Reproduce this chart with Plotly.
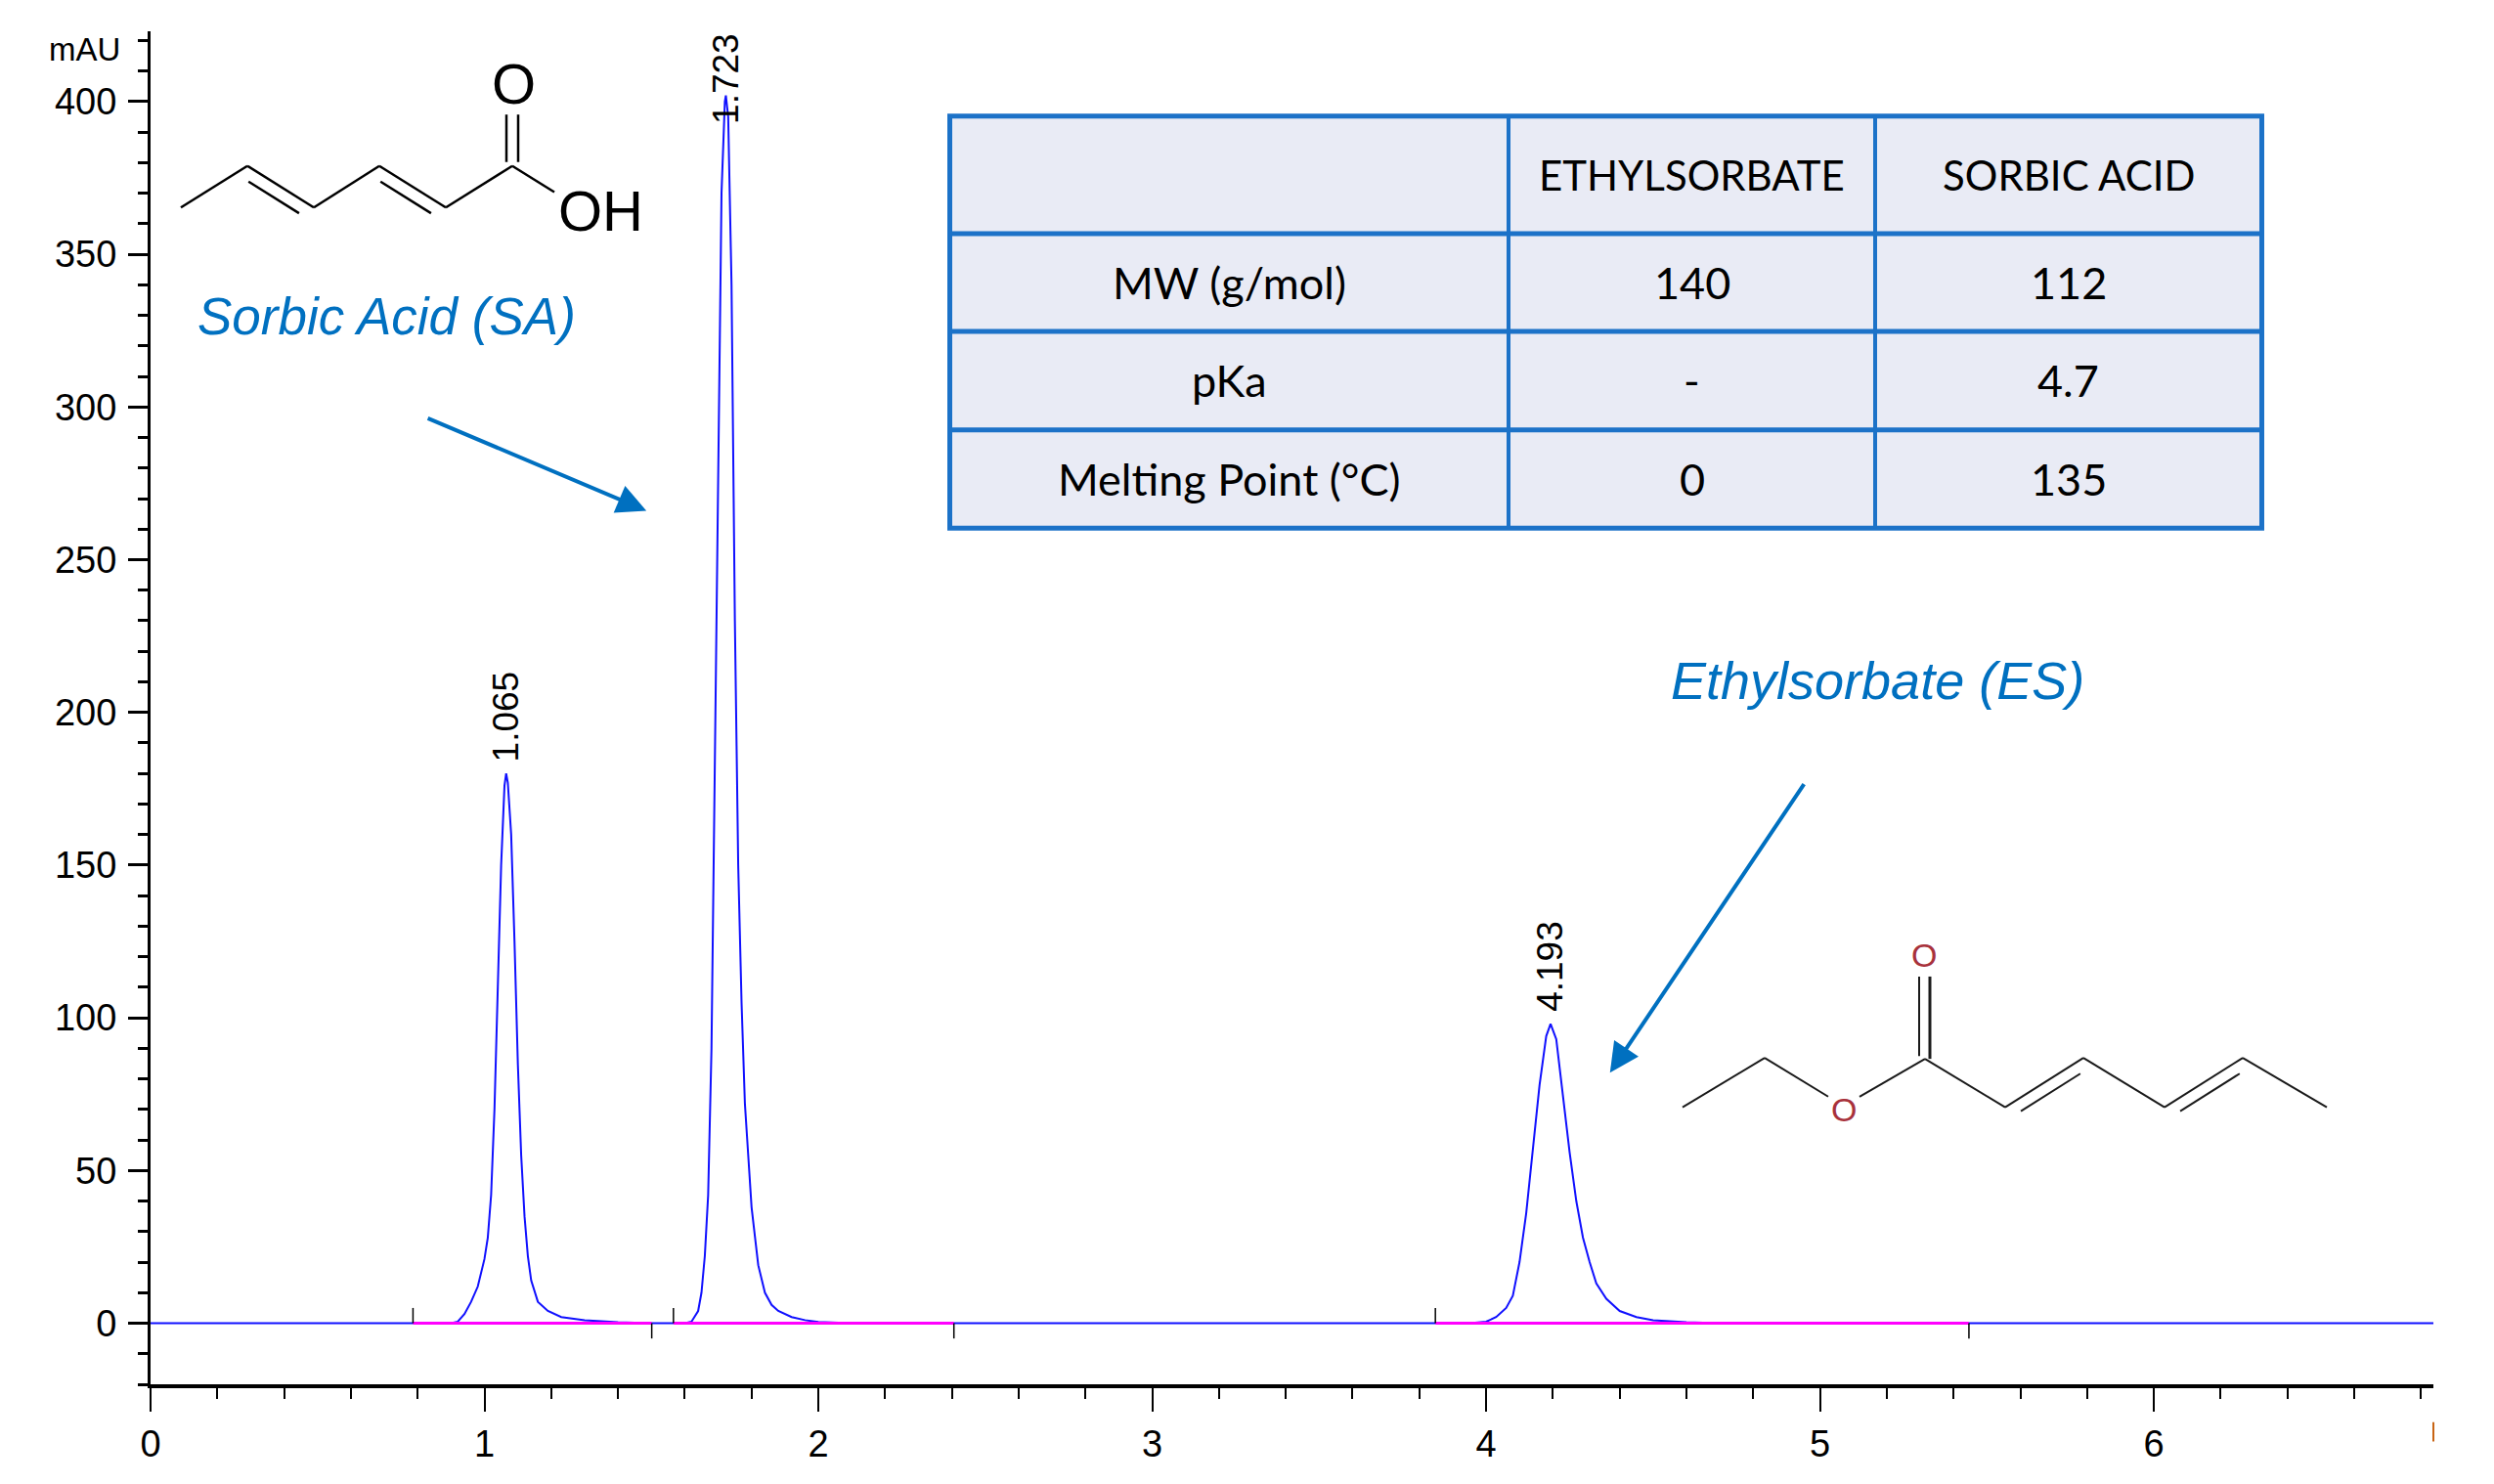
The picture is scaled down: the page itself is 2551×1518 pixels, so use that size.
import plotly.graph_objects as go

# chromatogram (min, mAU)
rt_p1 = [0.90, 0.92, 0.94, 0.96, 0.98, 1.00, 1.01, 1.02, 1.03, 1.04, 1.05, 1.06, 1.065,
         1.07, 1.08, 1.09, 1.10, 1.11, 1.12, 1.13, 1.14, 1.16, 1.19, 1.23, 1.30, 1.40, 1.50]
mau_p1 = [0, 0.5, 3, 7, 12, 21, 28, 42, 70, 110, 150, 176, 180,
          177, 160, 125, 85, 55, 35, 22, 14, 7, 4, 2, 1, 0.3, 0]
rt_p2 = [1.60, 1.62, 1.64, 1.65, 1.66, 1.67, 1.68, 1.69, 1.70, 1.71, 1.72, 1.723, 1.73,
         1.74, 1.75, 1.76, 1.77, 1.78, 1.79, 1.80, 1.82, 1.84, 1.86, 1.88, 1.92, 1.96, 2.00, 2.10]
mau_p2 = [0, 0.5, 4, 10, 22, 42, 90, 190, 290, 370, 400, 402, 395,
          340, 230, 150, 105, 72, 55, 38, 19, 10, 6, 4, 2, 1, 0.4, 0]
rt_p3 = [3.95, 4.00, 4.03, 4.06, 4.08, 4.10, 4.12, 4.14, 4.16, 4.18, 4.193, 4.21, 4.23,
         4.25, 4.27, 4.29, 4.31, 4.33, 4.36, 4.40, 4.45, 4.50, 4.60, 4.70]
mau_p3 = [0, 0.5, 2, 5, 9, 20, 36, 56, 78, 94, 98, 93, 75,
          56, 40, 28, 20, 13, 8, 4, 2, 1, 0.3, 0]
run_end = 6.837

peak_rt = [1.065, 1.723, 4.193]
peak_mau = [180, 402, 98]
peak_labels = ["1.065", "1.723", "4.193"]

# integration baselines (start / end of each peak)
bl_start = [0.786, 1.566, 3.848]
bl_end = [1.501, 2.406, 5.446]

# property table
table_header = ["", "ETHYLSORBATE", "SORBIC ACID"]
table_props = ["MW (g/mol)", "pKa", "Melting Point (°C)"]
es_vals = ["140", "-", "0"]
sa_vals = ["112", "4.7", "135"]

# page geometry of the reference (pixels) - plot area edges
W, H = 2551, 1518
L, R, T, B = 154, 62, 32, 89
PAGE = 8  # default body margin of the html page
Y_TOP = 423.0


def px(x):
    return (x - L) / (W - L - R)


def py(y):
    return (H - B - y) / (H - T - B)


fig = go.Figure()

chrom_t = [0.0] + rt_p1 + rt_p2 + rt_p3 + [run_end]
chrom_y = [0] + mau_p1 + mau_p2 + mau_p3 + [0]
fig.add_trace(go.Scatter(x=chrom_t, y=chrom_y, mode="lines",
                         line=dict(color="#1010ff", width=2), hoverinfo="skip"))

bx, by = [], []
for s, e in zip(bl_start, bl_end):
    bx += [s, e, None]
    by += [0, 0, None]
fig.add_trace(go.Scatter(x=bx, y=by, mode="lines",
                         line=dict(color="#ff00ff", width=3), hoverinfo="skip"))

ex, ey = [], []
for s, e in zip(bl_start, bl_end):
    ex += [s, s, None, e, e, None]
    ey += [0, 5, None, 0, -5, None]
fig.add_trace(go.Scatter(x=ex, y=ey, mode="lines",
                         line=dict(color="black", width=1.5), hoverinfo="skip"))

annotations = []
lab_font = dict(family="Liberation Sans, Arial", size=37, color="black")
for t, h, lab in zip(peak_rt, peak_mau, peak_labels):
    if h + 30 > Y_TOP:
        annotations.append(dict(x=t, y=1, xref="x", yref="paper", text=lab, textangle=-90,
                                showarrow=False, xanchor="center", yanchor="top", font=lab_font))
    else:
        annotations.append(dict(x=t, y=h, xref="x", yref="y", text=lab, textangle=-90,
                                showarrow=False, xanchor="center", yanchor="bottom", yshift=10,
                                font=lab_font))

tick_font = dict(family="Liberation Sans Narrow, Arial Narrow, Liberation Sans", size=38, color="black")
annotations.append(dict(x=0, y=417, xref="paper", yref="y", text="mAU", showarrow=False,
                        xanchor="right", yanchor="middle", xshift=-29,
                        font=dict(family="Liberation Sans Narrow, Arial Narrow, Liberation Sans",
                                  size=33, color="black")))


def note(x, y, text, font):
    annotations.append(dict(x=px(x), y=py(y), xref="paper", yref="paper", text=text,
                            showarrow=False, xanchor="center", yanchor="middle", font=font))


blue = "#0070c0"
note(395, 326, "<i>Sorbic Acid (SA)</i>", dict(family="Liberation Sans, Arial", size=53, color=blue))
note(1920, 702, "<i>Ethylsorbate (ES)</i>", dict(family="Liberation Sans, Arial", size=54, color=blue))
# arrows
annotations.append(dict(x=1.485, y=266.0, ax=0.826, ay=296.5, xref="x", yref="y", axref="x", ayref="y",
                        text="", showarrow=True, arrowhead=2, arrowsize=1.5, arrowwidth=4,
                        arrowcolor=blue, standoff=0))
annotations.append(dict(x=4.371, y=82.0, ax=4.955, ay=177.0, xref="x", yref="y", axref="x", ayref="y",
                        text="", showarrow=True, arrowhead=2, arrowsize=1.5, arrowwidth=4,
                        arrowcolor=blue, standoff=0))

shapes = []


def seg(x0, y0, x1, y1, color="black", width=2.5):
    shapes.append(dict(type="line", xref="paper", yref="paper", x0=px(x0), y0=py(y0),
                       x1=px(x1), y1=py(y1), line=dict(color=color, width=width)))


def double_bond(p, q, side, color="black", width=2.5, gap=13, trim=0.12):
    dx, dy = q[0] - p[0], q[1] - p[1]
    n = (dx * dx + dy * dy) ** 0.5
    ox, oy = -dy / n * gap * side, dx / n * gap * side
    seg(p[0] + dx * trim + ox, p[1] + dy * trim + oy,
        q[0] - dx * trim + ox, q[1] - dy * trim + oy, color, width)


# table
t_cols = [971.5, 1543, 1918, 2313.5]
t_rows = [119.5, 241, 342, 443.5, 545]
tcol = "#1c72c8"
shapes.append(dict(type="rect", xref="paper", yref="paper", x0=px(t_cols[0]), x1=px(t_cols[-1]),
                   y0=py(t_rows[-1]), y1=py(t_rows[0]), fillcolor="#e9ebf5", line=dict(width=0),
                   layer="below"))
for r in t_rows:
    seg(t_cols[0] - 2.5, r, t_cols[-1] + 2.5, r, tcol, 5)
for i, c in enumerate(t_cols):
    seg(c, t_rows[0], c, t_rows[-1], tcol, 5 if i in (0, len(t_cols) - 1) else 4)

cell_font = dict(family="Lato, Carlito, Liberation Sans", size=45, color="black")
head_font = dict(family="Lato, Carlito, Liberation Sans", size=42, color="black")
col_mid = [(t_cols[i] + t_cols[i + 1]) / 2 for i in range(3)]
row_mid = [(t_rows[i] + t_rows[i + 1]) / 2 for i in range(4)]
table_cells = [table_header] + [[p, e, s] for p, e, s in zip(table_props, es_vals, sa_vals)]
for ri, row in enumerate(table_cells):
    for ci, txt in enumerate(row):
        if txt:
            note(col_mid[ci], row_mid[ri], txt, head_font if ri == 0 else cell_font)

# sorbic acid structure
sa_chain = [(185, 214), (253, 171), (321, 214), (388, 171), (456, 214), (524, 171), (567, 198)]
for a, b in zip(sa_chain[:-1], sa_chain[1:]):
    seg(a[0], a[1], b[0], b[1])
double_bond(sa_chain[1], sa_chain[2], 1)
double_bond(sa_chain[3], sa_chain[4], 1)
seg(518, 118, 518, 167)
seg(530, 118, 530, 167)
mol_font = dict(family="Liberation Sans, Arial", size=58, color="black")
note(525, 86, "O", mol_font)
note(614, 217, "OH", mol_font)

# ethyl sorbate structure
gcol = "#1a1a1a"
seg(1721, 1143, 1805, 1092, gcol, 2)
seg(1805, 1092, 1870, 1132, gcol, 2)
seg(1902, 1132, 1969, 1093, gcol, 2)
es_chain = [(1969, 1093), (2051, 1143), (2131, 1092), (2214, 1143), (2294, 1092), (2380, 1143)]
for a, b in zip(es_chain[:-1], es_chain[1:]):
    seg(a[0], a[1], b[0], b[1], gcol, 2)
double_bond(es_chain[1], es_chain[2], 1, gcol, 2, gap=12)
double_bond(es_chain[3], es_chain[4], 1, gcol, 2, gap=12)
seg(1963, 1008, 1963, 1090, gcol, 2)
seg(1974, 1008, 1974, 1093, gcol, 3)
red_font = dict(family="Liberation Sans, Arial", size=34, color="#a8323c")
note(1886, 1145, "O", red_font)
note(1968, 986, "O", red_font)

# clipped "7" tick label at right end
seg(2489, 1468, 2489, 1488, "#c86414", 2)

fig.update_layout(
    width=W - 2 * PAGE, height=H - 2 * PAGE,
    margin=dict(l=L - PAGE, r=R - PAGE, t=T - PAGE, b=B - PAGE, pad=0),
    paper_bgcolor="white", plot_bgcolor="white",
    showlegend=False,
    shapes=shapes, annotations=annotations,
    xaxis=dict(range=[0, run_end], showgrid=False, zeroline=False, showline=True,
               linecolor="black", linewidth=4, ticks="outside", ticklen=24, tickwidth=2,
               tickcolor="black", tick0=0, dtick=1, tickfont=tick_font, ticklabelstandoff=0,
               minor=dict(dtick=0.2, tick0=0, ticks="outside", ticklen=11, tickwidth=2, tickcolor="black")),
    yaxis=dict(range=[-20, Y_TOP], showgrid=False, zeroline=False, showline=True,
               linecolor="black", linewidth=3, ticks="outside", ticklen=20, tickwidth=3,
               tickcolor="black", tickvals=[0, 50, 100, 150, 200, 250, 300, 350, 400],
               tickfont=tick_font, ticklabelstandoff=4,
               minor=dict(dtick=10, tick0=0, ticks="outside", ticklen=10, tickwidth=3, tickcolor="black")),
)

fig.write_html("out.html")
